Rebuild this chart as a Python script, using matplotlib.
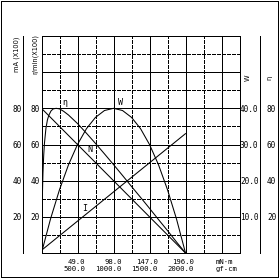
import matplotlib
matplotlib.use('Agg')
import matplotlib.pyplot as plt
from matplotlib.ticker import MultipleLocator
from matplotlib.patches import Rectangle
from matplotlib.transforms import offset_copy

# values
torque_ticks = [49.0, 98.0, 147.0, 196.0]     # mN*m
gfcm_ticks = [500.0, 1000.0, 1500.0, 2000.0]  # gf-cm
left_ticks = [20, 40, 60, 80]                 # mA (x100) and r/min (x100)
watt_ticks = [10.0, 20.0, 30.0, 40.0]
eff_ticks = [20, 40, 60, 80]

line_torque = [0, 196]
speed = [80, 0]        # r/min x100
current = [1.5, 66]    # mA x100

w_torque = [0, 12.25, 24.5, 36.75, 49, 61.25, 73.5, 85.75, 98,
            110.25, 122.5, 134.75, 147, 159.25, 171.5, 183.75, 196]
output_w = [0, 9.4, 17.5, 24.4, 30.0, 34.4, 37.5, 39.4, 40.0,
            39.4, 37.5, 34.4, 30.0, 24.4, 17.5, 9.4, 0]

eta_torque = [0, 1, 2, 3, 4, 6, 8, 10, 13, 16, 20, 24.5, 30, 36.75, 49, 61.25,
              73.5, 85.75, 98, 110.25, 122.5, 134.75, 147, 159.25, 171.5, 183.75, 196]
efficiency = [0, 28.6, 44.3, 54.0, 60.6, 68.8, 73.5, 76.2, 78.6, 79.7, 80.0, 79.7,
              78.4, 76.3, 71.6, 66.2, 60.6, 54.8, 48.9, 42.9, 36.8, 30.8, 24.7,
              18.5, 12.4, 6.1, 0]

plt.rcParams['font.family'] = 'DejaVu Sans Mono'
plt.rcParams['lines.antialiased'] = False
plt.rcParams['patch.antialiased'] = False

LW = 0.72  # grid / frame, one pixel at 100 dpi
CW = 0.75  # curves
FS = 5.6
FSB = 5.2  # bottom labels

fig = plt.figure(figsize=(2.8, 2.8), dpi=100)
ax = fig.add_axes([41.5 / 280, 27 / 280, 198 / 280, 217 / 280])
ax.set_xlim(0, 269.5)
ax.set_ylim(0, 120)

# grid: solid on majors, dashed on halves
ax.xaxis.set_major_locator(MultipleLocator(49))
ax.xaxis.set_minor_locator(MultipleLocator(24.5))
ax.set_yticks(range(0, 121, 20), labels=[''] + [str(v) for v in left_ticks] + ['', ''])
ax.yaxis.set_minor_locator(MultipleLocator(10))
ax.grid(which='major', color='black', lw=LW, ls='-')
ax.grid(which='minor', color='black', lw=LW, ls=(0, (3, 2)))
ax.tick_params(which='both', length=0)
ax.tick_params(axis='x', labelbottom=False)
ax.tick_params(axis='y', labelsize=FS, pad=1.4)
for sp in ax.spines.values():
    sp.set_linewidth(LW)

# outer left axis for current
ax_ma = ax.twinx()
ax_ma.set_ylim(0, 120)
for name, sp in ax_ma.spines.items():
    sp.set_visible(name == 'left')
    sp.set_linewidth(LW)
ax_ma.spines['left'].set_position(('axes', (23.3 - 41.5) / 198))
ax_ma.yaxis.tick_left()
ax_ma.set_yticks(left_ticks, labels=[str(v) for v in left_ticks])
ax_ma.tick_params(length=0, labelsize=FS, pad=1.0)

# right axis for output power
ax_w = ax.twinx()
ax_w.set_ylim(0, 60)
for sp in ax_w.spines.values():
    sp.set_visible(False)
ax_w.set_yticks(watt_ticks, labels=[f'{v:.1f}' for v in watt_ticks])
ax_w.tick_params(length=0, labelsize=FS, pad=0.3)

# outer right axis for efficiency
ax_eta = ax.twinx()
ax_eta.set_ylim(0, 120)
for name, sp in ax_eta.spines.items():
    sp.set_visible(name == 'right')
    sp.set_linewidth(LW)
ax_eta.spines['right'].set_position(('axes', (260 - 41.5) / 198))
ax_eta.set_yticks(eff_ticks, labels=[str(v) for v in eff_ticks])
ax_eta.tick_params(length=0, labelsize=FS, pad=5.0)

# curves (antialiased so they stay about one pixel wide)
ax.plot(line_torque, speed, color='black', lw=CW, antialiased=True)
ax_ma.plot(line_torque, current, color='black', lw=CW, antialiased=True)
ax_w.plot(w_torque, output_w, color='black', lw=CW, antialiased=True)
ax_eta.plot(eta_torque, efficiency, color='black', lw=CW, antialiased=True)

ax_eta.text(31.3, 83.5, 'η', fontsize=6, ha='center', va='center')
ax_w.text(108.2, 41.75, 'W', fontsize=6, ha='center', va='center')
ax.text(66, 57.2, 'N', fontsize=6, ha='center', va='center')
ax_ma.text(59.2, 24.6, 'I', fontsize=6, ha='center', va='center')

# axis titles
ytr = ax.get_yaxis_transform()
title_kw = dict(rotation=90, ha='center', va='center', fontsize=4.8, family='DejaVu Sans')
ax.text(-0.127, 110, 'mA (X100)', transform=ytr, **title_kw)
ax.text(-0.033, 110, 'r/min(X100)', transform=ytr, **title_kw)
ax.text(1.043, 96.8, 'W', transform=ytr, **title_kw)
ax.text(1.149, 96.8, 'η', transform=ytr, **title_kw)

# two-row torque labels under the grid
row1, row2 = -0.042, -0.075
xtr = offset_copy(ax.get_xaxis_transform(), fig=fig, x=8, y=0, units='dots')
for t, g in zip(torque_ticks, gfcm_ticks):
    ax.text(t, row1, f'{t:.1f}', transform=xtr, ha='right', va='center', fontsize=FSB)
    ax.text(t, row2, f'{g:.1f}', transform=xtr, ha='right', va='center', fontsize=FSB)
xtr0 = ax.get_xaxis_transform()
ax.text(237.5, row1, 'mN·m', transform=xtr0, ha='left', va='center', fontsize=FSB)
ax.text(237.5, row2, 'gf-cm', transform=xtr0, ha='left', va='center', fontsize=FSB)

# frame around the whole picture
fig.add_artist(Rectangle((1.2 / 280, 3 / 280), 276.8 / 280, 276.5 / 280,
                         transform=fig.transFigure, fill=False, lw=LW, color='black'))

fig.savefig('out.png', dpi=100)
